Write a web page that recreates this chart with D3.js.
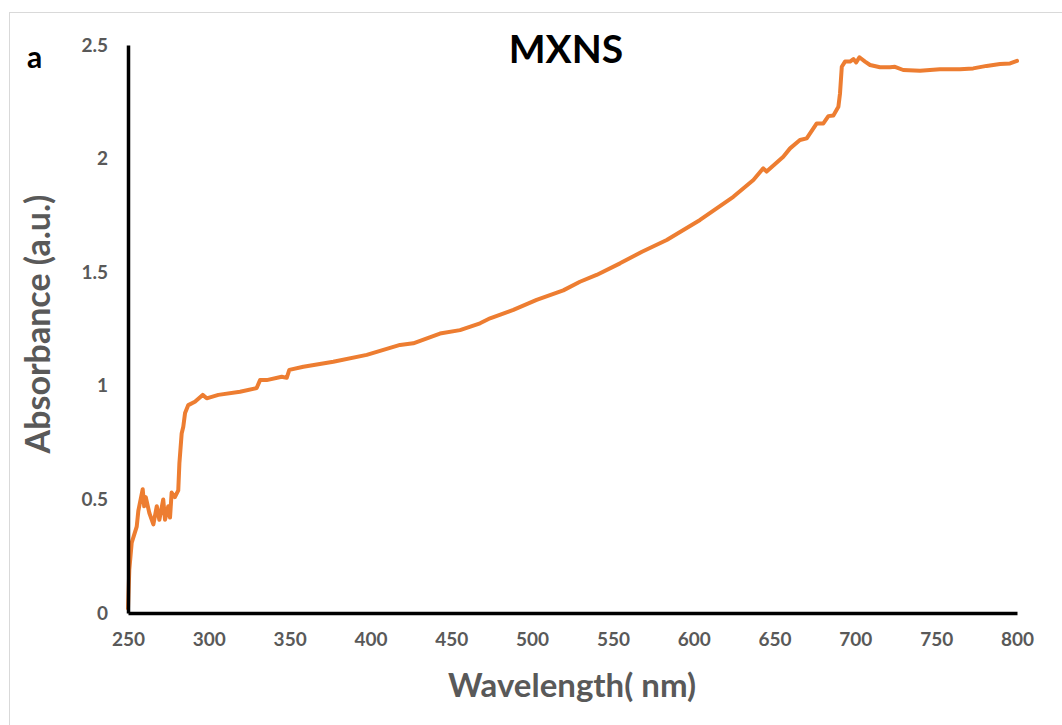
<!DOCTYPE html>
<html>
<head>
<meta charset="utf-8">
<script src="https://cdn.jsdelivr.net/npm/d3@7"></script>
<style>
  body { margin: 0; background: #fff; }
  svg { display: block; font-family: Lato, "Open Sans", sans-serif; }
</style>
</head>
<body>
<svg id="chart" width="1062" height="725"></svg>
<script>
// wavelength (nm) and absorbance
var wavelength = [250, 250.8, 252.3, 255.4, 256.4, 259.1, 260, 261, 263.2, 265.7, 267.8, 269.4, 271.8, 272.9,
  274.9, 276, 277, 279, 281.1, 281.8, 283.2, 284.2, 285.3, 287.3, 291.4, 296.2, 298.7, 305.9, 319.3, 329.6,
  331.7, 335.8, 345.1, 348.2, 349.8, 358.5, 377, 397.7, 418.3, 426.5, 443, 455.4, 467.8, 474, 488.4, 502.8,
  519.3, 529.6, 539.9, 554.4, 568, 583.3, 603.9, 624.5, 636.9, 643, 645.1, 655.4, 659.6, 665.7, 669.9, 676.1,
  680.2, 683.3, 686.4, 689.5, 690.5, 691.6, 693.6, 696.7, 698.8, 700.5, 702.5, 706, 709.1, 715.2, 721.4,
  724.5, 729.6, 740, 752.3, 764.7, 772.9, 781.2, 789.5, 795.7, 800];
var absorbance = [0.02, 0.19, 0.31, 0.38, 0.45, 0.545, 0.47, 0.51, 0.44, 0.39, 0.47, 0.41, 0.50, 0.41,
  0.47, 0.42, 0.53, 0.51, 0.54, 0.66, 0.79, 0.82, 0.88, 0.915, 0.93, 0.96, 0.945, 0.96, 0.974, 0.99,
  1.025, 1.025, 1.04, 1.035, 1.07, 1.084, 1.106, 1.136, 1.18, 1.187, 1.23, 1.245, 1.275, 1.297, 1.334, 1.378,
  1.42, 1.458, 1.488, 1.539, 1.59, 1.642, 1.73, 1.832, 1.906, 1.957, 1.943, 2.008, 2.045, 2.082, 2.089, 2.155,
  2.155, 2.187, 2.19, 2.228, 2.287, 2.404, 2.427, 2.427, 2.438, 2.423, 2.446, 2.427, 2.412, 2.402, 2.402,
  2.404, 2.39, 2.387, 2.393, 2.393, 2.397, 2.408, 2.416, 2.419, 2.43];
var xTicks = [250, 300, 350, 400, 450, 500, 550, 600, 650, 700, 750, 800];
var yTicks = [0, 0.5, 1, 1.5, 2, 2.5];

var svg = d3.select("#chart");

// light frame of the original figure (right/bottom edges fall outside)
svg.append("rect")
  .attr("x", 9.5).attr("y", 12.5)
  .attr("width", 1100).attr("height", 760)
  .attr("fill", "#fff")
  .attr("stroke", "#d9d9d9");

var x = d3.scaleLinear().domain([250, 800]).range([128, 1017]);
var y = d3.scaleLinear().domain([0, 2.5]).range([613, 45]);

var data = wavelength.map(function(w, i) { return [w, absorbance[i]]; });

var line = d3.line()
  .x(function(d) { return x(d[0]); })
  .y(function(d) { return y(d[1]); });

svg.append("path")
  .datum(data)
  .attr("d", line)
  .attr("fill", "none")
  .attr("stroke", "#ED7D31")
  .attr("stroke-width", 4)
  .attr("stroke-linejoin", "round")
  .attr("stroke-linecap", "round");

// axes: thick black lines, no tick marks
var xAxis = svg.append("g")
  .attr("transform", "translate(0," + y(0) + ")")
  .call(d3.axisBottom(x).tickValues(xTicks).tickSize(0).tickPadding(20));
var yAxis = svg.append("g")
  .attr("transform", "translate(" + x(250) + ",0)")
  .call(d3.axisLeft(y).tickValues(yTicks).tickSize(0).tickPadding(20)
    .tickFormat(function(d) { return String(d); }));

[xAxis, yAxis].forEach(function(g) {
  g.select(".domain").attr("stroke", "#000").attr("stroke-width", 3.5);
  g.selectAll("text")
    .attr("fill", "#595959")
    .attr("font-size", 19)
    .attr("font-weight", "bold")
    .attr("font-family", "Lato, sans-serif");
});

svg.append("text")
  .attr("x", 566).attr("y", 63)
  .attr("text-anchor", "middle")
  .attr("font-size", 39)
  .attr("font-weight", "bold")
  .attr("fill", "#000")
  .text("MXNS");

svg.append("text")
  .attr("x", 27).attr("y", 68)
  .attr("font-size", 30)
  .attr("font-weight", "bold")
  .attr("fill", "#000")
  .text("a");

svg.append("text")
  .attr("x", 572).attr("y", 697)
  .attr("text-anchor", "middle")
  .attr("font-size", 33)
  .attr("font-weight", "bold")
  .attr("fill", "#595959")
  .text("Wavelength( nm)");

svg.append("text")
  .attr("transform", "translate(50,324) rotate(-90)")
  .attr("text-anchor", "middle")
  .attr("font-size", 34)
  .attr("font-weight", "bold")
  .attr("fill", "#595959")
  .text("Absorbance (a.u.)");
</script>
</body>
</html>
